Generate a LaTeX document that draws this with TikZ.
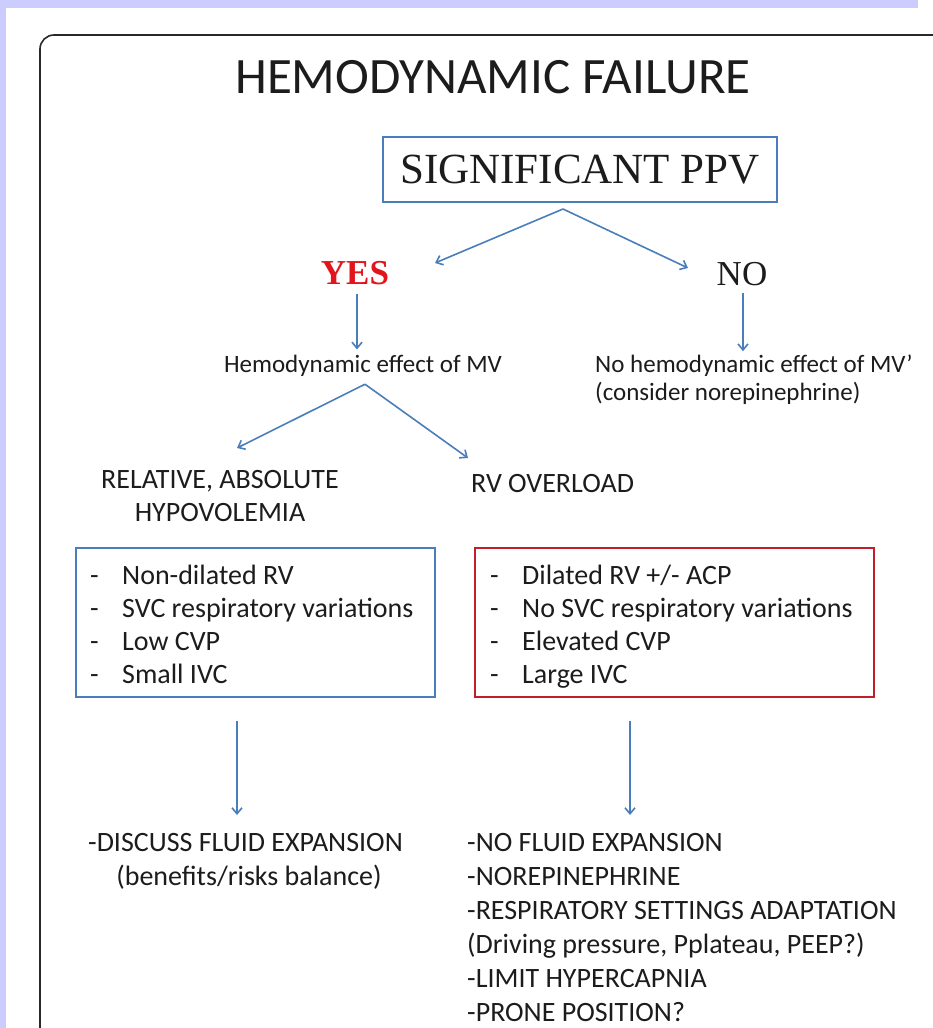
\documentclass[tikz,border=0pt]{standalone}
\usepackage{fontspec}
\setmainfont{Carlito}
\newfontfamily\tms{Liberation Serif}
\usetikzlibrary{arrows.meta,calc}
\definecolor{lav}{RGB}{204,204,255}
\definecolor{ablue}{RGB}{74,126,187}
\definecolor{bred}{RGB}{192,30,40}
\definecolor{yred}{RGB}{226,20,28}
\definecolor{txt}{RGB}{28,28,28}
\definecolor{frame}{RGB}{40,40,40}
\newcommand{\dsh}{\makebox[32pt][l]{-}}
\begin{document}
\begin{tikzpicture}[x=1pt,y=-1pt,
  lbl/.style={inner sep=0pt, text=txt, font=\fontsize{28}{34}\selectfont, anchor=base west},
  small/.style={inner sep=0pt, text=txt, font=\fontsize{25}{30}\selectfont, anchor=base west},
  arr/.style={draw=ablue, line width=1.6pt, -{Straight Barb[length=6pt,width=10pt]}},
  bluebox/.style={draw=ablue, line width=2.2pt, inner sep=0pt, minimum height=149pt},
  redbox/.style={draw=bred, line width=2.2pt, inner sep=0pt, minimum height=149pt}]
\useasboundingbox (0,0) rectangle (933,1028);
\fill[white] (0,0) rectangle (933,1028);
\fill[lav] (0,0) rectangle (918,8);
\fill[lav] (0,0) rectangle (6,1028);
\draw[frame, line width=1.6pt, rounded corners=14pt] (40,1032) -- (40,35) -- (940,35);

\node[inner sep=0pt, text=txt, font=\fontsize{51}{58}\selectfont, anchor=base] (title) at (493,93) {HEMODYNAMIC FAILURE};

\node[draw=ablue, line width=2pt, minimum width=394pt, minimum height=65pt, inner sep=0pt,
      text=txt, font=\tms\fontsize{43}{50}\selectfont] (ppv) at (580,169.5) {SIGNIFICANT PPV};

\node[inner sep=0pt, text=yred, font=\tms\bfseries\fontsize{35}{40}\selectfont, anchor=base] (yes) at (355,284) {YES};
\node[inner sep=0pt, text=txt, font=\tms\fontsize{35}{40}\selectfont, anchor=base] (no) at (742,285) {NO};

\coordinate (tyes) at (435,263);
\coordinate (tno) at (688,268);
\draw[arr] ($(ppv.south)+(-17,6)$) -- (tyes);
\draw[arr] ($(ppv.south)+(-17,6)$) -- (tno);

\node[small, anchor=base] (hem) at (363,372) {Hemodynamic effect of MV};
\node[small] (nohem1) at (595,372) {No hemodynamic effect of MV'};
\node[small] (nohem2) at (595,400) {(consider norepinephrine)};

\draw[arr] ($(yes.south)+(2,9)$) -- ($(yes.south |- hem.north)+(2,-5)$);
\draw[arr] ($(no.south)+(1,7)$) -- ($(no.south |- nohem1.north)+(1,-3)$);

\node[lbl, anchor=base] (rel1) at (220,488) {RELATIVE, ABSOLUTE};
\node[lbl, anchor=base] (rel2) at (220,521) {HYPOVOLEMIA};
\node[lbl] (rv) at (471,492) {RV OVERLOAD};

\coordinate (trel) at (237,448);
\coordinate (trv) at (468,458);
\draw[arr] ($(hem.south)+(2,8)$) -- (trel);
\draw[arr] ($(hem.south)+(2,8)$) -- (trv);

\node[bluebox, minimum width=359pt] (bb) at (255.5,622.5) {};
\node[redbox, minimum width=399pt] (rb) at (674.5,622.5) {};

\node[lbl] (b1) at (90,584) {\dsh Non-dilated RV};
\node[lbl] (b2) at (90,617) {\dsh SVC respiratory variations};
\node[lbl] (b3) at (90,650) {\dsh Low CVP};
\node[lbl] (b4) at (90,683) {\dsh Small IVC};

\node[lbl] (r1) at (490,584) {\dsh Dilated RV +/- ACP};
\node[lbl] (r2) at (490,617) {\dsh No SVC respiratory variations};
\node[lbl] (r3) at (490,650) {\dsh Elevated CVP};
\node[lbl] (r4) at (490,683) {\dsh Large IVC};

\coordinate (dl) at (237,815);
\coordinate (dr) at (630,815);
\draw[arr] ($(bb.south -| dl)+(0,23)$) -- (dl);
\draw[arr] ($(rb.south -| dr)+(0,23)$) -- (dr);

\node[lbl] (l1) at (88,851) {-DISCUSS FLUID EXPANSION};
\node[lbl, anchor=base] (l2) at (249,885) {(benefits/risks balance)};

\node[lbl] (k1) at (467,851) {-NO FLUID EXPANSION};
\node[lbl] (k2) at (467,885.2) {-NOREPINEPHRINE};
\node[lbl] (k3) at (467,919.4) {-RESPIRATORY SETTINGS ADAPTATION};
\node[lbl] (k4) at (467,953.6) {(Driving pressure, Pplateau, PEEP?)};
\node[lbl] (k5) at (467,987.8) {-LIMIT HYPERCAPNIA};
\node[lbl] (k6) at (467,1021.5) {-PRONE POSITION?};
\end{tikzpicture}
\end{document}
